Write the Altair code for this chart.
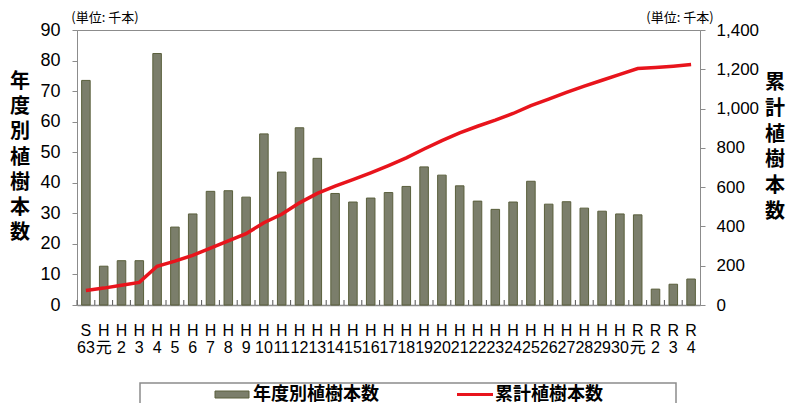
import altair as alt
import pandas as pd

# Fiscal years: era letter on the first line, year on the second
categories = (
    ["S|63", "H|元"]
    + [f"H|{y}" for y in range(2, 31)]
    + ["R|元", "R|2", "R|3", "R|4"]
)

# Trees planted per year (thousands)
annual = [
    73.5, 12.7, 14.5, 14.5, 82.3, 25.5, 29.8, 37.2, 37.4, 35.3,
    56.0, 43.5, 58.0, 48.0, 36.5, 33.7, 35.0, 36.8, 38.8, 45.2,
    42.5, 39.0, 34.0, 31.3, 33.7, 40.5, 33.0, 33.8, 31.7, 30.7,
    29.8, 29.5, 5.2, 6.8, 8.5,
]

# Cumulative trees planted (thousands)
cumulative = [
    74, 86, 101, 115, 197, 223, 253, 290, 327, 363,
    419, 462, 520, 568, 605, 638, 673, 710, 749, 794,
    837, 876, 910, 941, 975, 1015, 1048, 1082, 1114, 1144,
    1174, 1204, 1209, 1216, 1224,
]

left_ticks = [0, 10, 20, 30, 40, 50, 60, 70, 80, 90]
right_ticks = [0, 200, 400, 600, 800, 1000, 1200, 1400]

bar_name = "年度別植樹本数"
line_name = "累計植樹本数"
unit_text = "(単位: 千本)"

BAR_FILL = "#7b7e6b"
BAR_EDGE = "#5a5f3c"
RED = "#e8141c"
GRAY = "#8c8c8c"
LATIN = "Liberation Sans, Noto Sans CJK JP"
CJK = "Noto Sans CJK JP"

W, H = 623, 275

df = pd.DataFrame({"cat": categories, "annual": annual, "cum": cumulative})
one = alt.Data(values=[{}])

x_enc = alt.X(
    "cat:N",
    sort=categories,
    title=None,
    scale=alt.Scale(paddingInner=0, paddingOuter=0),
    axis=alt.Axis(
        labelExpr="split(datum.value, '|')",
        labelAngle=0,
        labelFont=LATIN,
        labelFontSize=16,
        labelLineHeight=17,
        labelColor="#000000",
        labelPadding=17,
        labelOverlap=False,
        labelBaseline="top",
        ticks=False,
        domainColor=GRAY,
        domainWidth=1.5,
    ),
)

bars = alt.Chart(df).mark_bar(
    width=alt.RelativeBandSize(0.48),
    fill=BAR_FILL,
    stroke=BAR_EDGE,
    strokeWidth=1,
).encode(
    x=x_enc,
    y=alt.Y(
        "annual:Q",
        title=None,
        scale=alt.Scale(domain=[0, 90]),
        axis=alt.Axis(
            orient="left",
            values=left_ticks,
            grid=False,
            labelFont=LATIN,
            labelFontSize=18,
            labelColor="#000000",
            labelPadding=12,
            tickSize=5,
            tickColor=GRAY,
            domainColor=GRAY,
        ),
    ),
)

line = alt.Chart(df).mark_line(color=RED, strokeWidth=3.5).encode(
    x=alt.X("cat:N", sort=categories),
    y=alt.Y(
        "cum:Q",
        title=None,
        scale=alt.Scale(domain=[0, 1400]),
        axis=alt.Axis(
            orient="right",
            values=right_ticks,
            labelExpr="format(datum.value, ',.0f')",
            grid=False,
            labelFont=LATIN,
            labelFontSize=17,
            labelColor="#000000",
            labelPadding=11,
            tickSize=5,
            tickColor=GRAY,
            domainColor=GRAY,
        ),
    ),
)

# Small inward ticks on the category boundaries
cat_ticks = alt.Chart(df).mark_rule(color="#555555", strokeWidth=1).encode(
    x=alt.X("cat:N", sort=categories, bandPosition=0),
    y=alt.value(H),
    y2=alt.value(H - 5),
)

# Axis titles, one character per line
left_title = alt.Chart(one).mark_text(
    text=list(bar_name), font=CJK, fontSize=20, fontWeight="bold",
    lineHeight=25.2, align="center", baseline="middle", color="#000000",
).encode(x=alt.value(-57), y=alt.value(52))

right_title = alt.Chart(one).mark_text(
    text=list(line_name), font=CJK, fontSize=20, fontWeight="bold",
    lineHeight=25.8, align="center", baseline="middle", color="#000000",
).encode(x=alt.value(W + 75), y=alt.value(53))

unit_left = alt.Chart(one).mark_text(
    text=unit_text, font=CJK, fontSize=13, align="center",
    baseline="middle", color="#000000",
).encode(x=alt.value(28), y=alt.value(-12))

unit_right = alt.Chart(one).mark_text(
    text=unit_text, font=CJK, fontSize=13, align="center",
    baseline="middle", color="#000000",
).encode(x=alt.value(603), y=alt.value(-12))

# Legend box below the plot
legend_box = alt.Chart(one).mark_rect(
    fill="white", stroke=GRAY, strokeWidth=1.5,
).encode(x=alt.value(63), x2=alt.value(599), y=alt.value(353), y2=alt.value(420))

legend_swatch = alt.Chart(one).mark_rect(
    fill=BAR_FILL, stroke=BAR_EDGE, strokeWidth=1,
).encode(x=alt.value(138), x2=alt.value(172), y=alt.value(361), y2=alt.value(368))

legend_line = alt.Chart(one).mark_rule(color=RED, strokeWidth=3).encode(
    x=alt.value(380), x2=alt.value(416), y=alt.value(364.5)
)

legend_bar_text = alt.Chart(one).mark_text(
    text=bar_name, font=CJK, fontSize=18, fontWeight="bold",
    align="left", baseline="middle", color="#000000",
).encode(x=alt.value(176), y=alt.value(365))

legend_line_text = alt.Chart(one).mark_text(
    text=line_name, font=CJK, fontSize=18, fontWeight="bold",
    align="left", baseline="middle", color="#000000",
).encode(x=alt.value(418), y=alt.value(365))

chart = alt.layer(
    bars, line, cat_ticks,
    left_title, right_title, unit_left, unit_right,
    legend_box, legend_swatch, legend_line, legend_bar_text, legend_line_text,
).resolve_scale(
    y="independent"
).properties(
    width=W,
    height=H,
    autosize=alt.AutoSizeParams(type="none"),
    padding={"left": 77, "top": 30, "right": 86, "bottom": 98},
    background="white",
).configure_view(
    stroke=GRAY, strokeWidth=1
)

chart.save("out.html", embed_options={"renderer": "svg", "actions": False})
